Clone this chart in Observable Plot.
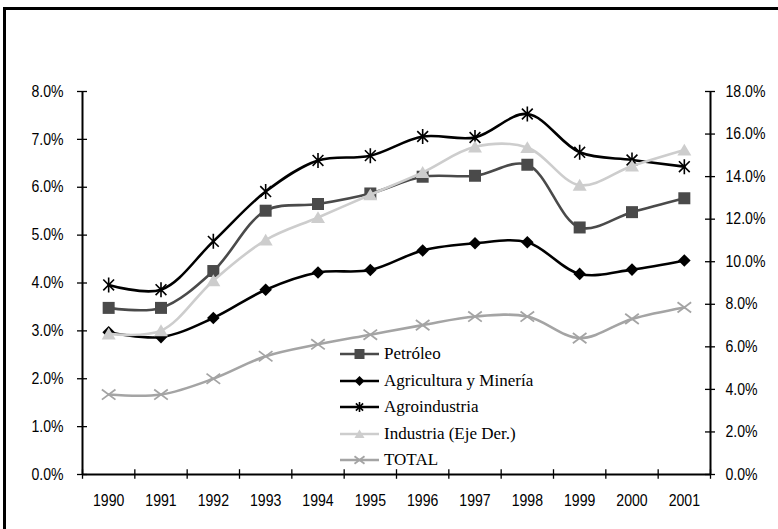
<!DOCTYPE html>
<html><head><meta charset="utf-8">
<script src="https://cdn.jsdelivr.net/npm/d3@7"></script>
<script src="https://cdn.jsdelivr.net/npm/@observablehq/plot@0.6"></script>
<style>
body{margin:0;background:#fff;overflow:hidden;}
#wrap{position:relative;width:778px;height:529px;overflow:hidden;}
#frame{position:absolute;left:3px;top:7px;width:800px;height:600px;border:3px solid #000;box-sizing:border-box;}
#chart{position:absolute;left:0;top:0;}
#legend{position:absolute;left:340px;top:341px;font-family:"Liberation Serif","Times New Roman",serif;font-size:17px;color:#000;}
.row{display:flex;align-items:center;height:26.5px;white-space:nowrap;}
.row span{margin-left:5px;}
</style></head><body>
<div id="wrap"><div id="frame"></div><div id="chart"></div><div id="legend"></div></div>
<script>
const years = [1990,1991,1992,1993,1994,1995,1996,1997,1998,1999,2000,2001];
const petroleo      = [3.48,3.48,4.25,5.51,5.65,5.87,6.22,6.24,6.47,5.16,5.48,5.77];
const agricultura   = [2.97,2.87,3.27,3.86,4.22,4.27,4.68,4.83,4.85,4.19,4.28,4.47];
const agroindustria = [3.96,3.86,4.87,5.91,6.56,6.66,7.06,7.04,7.53,6.73,6.57,6.43];
const industria     = [6.61,6.76,9.11,11.02,12.08,13.15,14.2,15.4,15.37,13.6,14.5,15.25]; // eje derecho
const total         = [1.67,1.67,2.0,2.47,2.72,2.92,3.12,3.30,3.30,2.85,3.25,3.49];
const leftTicks  = [0,1,2,3,4,5,6,7,8];
const rightTicks = [0,2,4,6,8,10,12,14,16,18];
const seriesNames = ["Petróleo","Agricultura y Minería","Agroindustria","Industria (Eje Der.)","TOTAL"];

const LMAX = 8, RMAX = 18, k = LMAX / RMAX;

// custom symbols (r = half width)
const rOf = s => Math.sqrt(s / Math.PI);
const symSquare = {draw(c, s){const r = rOf(s); c.rect(-r,-r,2*r,2*r);}};
const symDiamond = {draw(c, s){const r = rOf(s); c.moveTo(0,-r); c.lineTo(r,0); c.lineTo(0,r); c.lineTo(-r,0); c.closePath();}};
const symTriangle = {draw(c, s){const r = rOf(s); c.moveTo(0,-0.9*r); c.lineTo(r,0.8*r); c.lineTo(-r,0.8*r); c.closePath();}};
const symAsterisk = {draw(c, s){const r = rOf(s), d = r*0.72; c.moveTo(0,-r); c.lineTo(0,r); c.moveTo(-d,-d); c.lineTo(d,d); c.moveTo(-d,d); c.lineTo(d,-d);}};
const symTimes = {draw(c, s){const r = rOf(s); c.moveTo(-r,-r*0.75); c.lineTo(r,r*0.75); c.moveTo(-r,r*0.75); c.lineTo(r,-r*0.75);}};

const series = [
  {name: seriesNames[0], values: petroleo, scale: 1, color: "#4a4a4a", sym: symSquare, r: 6, fill: true},
  {name: seriesNames[1], values: agricultura, scale: 1, color: "#000000", sym: symDiamond, r: 6.3, fill: true},
  {name: seriesNames[2], values: agroindustria, scale: 1, color: "#000000", sym: symAsterisk, r: 7.5, fill: false, sw: 1.6},
  {name: seriesNames[4], values: total, scale: 1, color: "#a4a4a4", sym: symTimes, r: 6.8, fill: false, sw: 1.8},
  {name: seriesNames[3], values: industria, scale: k, color: "#cdcdcd", sym: symTriangle, r: 7, fill: true}
];

const marks = [];
for (const s of series) {
  const data = years.map((y, i) => ({year: y, v: s.values[i] * s.scale}));
  marks.push(Plot.line(data, {x: "year", y: "v", stroke: s.color, strokeWidth: 2.6, curve: "catmull-rom"}));
  marks.push(Plot.dot(data, s.fill
    ? {x: "year", y: "v", symbol: s.sym, r: s.r, fill: s.color, stroke: "none"}
    : {x: "year", y: "v", symbol: s.sym, r: s.r, fill: "none", stroke: s.color, strokeWidth: s.sw}));
}

const x0 = years[0] - 0.5, x1 = years[years.length-1] + 0.5;
const edges = [...years.map(y => y - 0.5), x1];
const tx = 0.096, ty = 0.1;

const chart = Plot.plot({
  width: 778, height: 529,
  marginLeft: 82, marginRight: 68, marginTop: 91, marginBottom: 55,
  x: {domain: [x0, x1]},
  y: {domain: [0, LMAX]},
  style: {fontFamily: '"Liberation Sans Narrow","Liberation Sans",Arial,sans-serif', fontSize: "16px", color: "#000", background: "transparent"},
  marks: [
    Plot.axisY({anchor: "left", ticks: leftTicks, tickFormat: d => d.toFixed(1) + "%", tickSize: 0, tickPadding: 19, label: null}),
    Plot.axisY({anchor: "right", ticks: rightTicks.map(v => v * k), tickFormat: d => (d / k).toFixed(1) + "%", tickSize: 0, tickPadding: 15, label: null}),
    Plot.axisX({ticks: years, tickFormat: d => String(d), tickSize: 0, tickPadding: 20, label: null}),
    Plot.ruleX([x0, x1], {stroke: "#000", strokeWidth: 2}),
    Plot.ruleY([0], {stroke: "#000", strokeWidth: 2}),
    Plot.ruleY(leftTicks, {y: d => d, x1: x0 - tx, x2: x0 + tx, stroke: "#000", strokeWidth: 1.3}),
    Plot.ruleY(rightTicks.map(v => v * k), {y: d => d, x1: x1 - tx, x2: x1 + tx, stroke: "#000", strokeWidth: 1.3}),
    Plot.ruleX(edges, {x: d => d, y1: -ty, y2: ty, stroke: "#000", strokeWidth: 1.3}),
    ...marks
  ]
});
document.getElementById("chart").appendChild(chart);

// condense tick labels horizontally (narrow face look) without moving them
d3.select(chart).selectAll('g[aria-label$="tick label"] text').each(function() {
  const w = this.getComputedTextLength();
  if (w > 0) {
    this.setAttribute("textLength", (w * 0.88).toFixed(2));
    this.setAttribute("lengthAdjust", "spacingAndGlyphs");
  }
});

// legend
const legendOrder = [0, 1, 2, 4, 3].map(i => series[i]);
const lg = d3.select("#legend");
for (const s of legendOrder) {
  const row = lg.append("div").attr("class", "row");
  const svg = row.append("svg").attr("width", 39).attr("height", 16);
  svg.append("line").attr("x1", 0).attr("x2", 39).attr("y1", 8).attr("y2", 8).attr("stroke", s.color).attr("stroke-width", 2.6);
  const p = d3.symbol(s.sym, Math.PI * 5 * 5)();
  const path = svg.append("path").attr("d", p).attr("transform", "translate(19.5,8)");
  if (s.fill) path.attr("fill", s.color); else path.attr("fill", "none").attr("stroke", s.color).attr("stroke-width", s.sw);
  row.append("span").text(s.name);
}
</script>
</body></html>
